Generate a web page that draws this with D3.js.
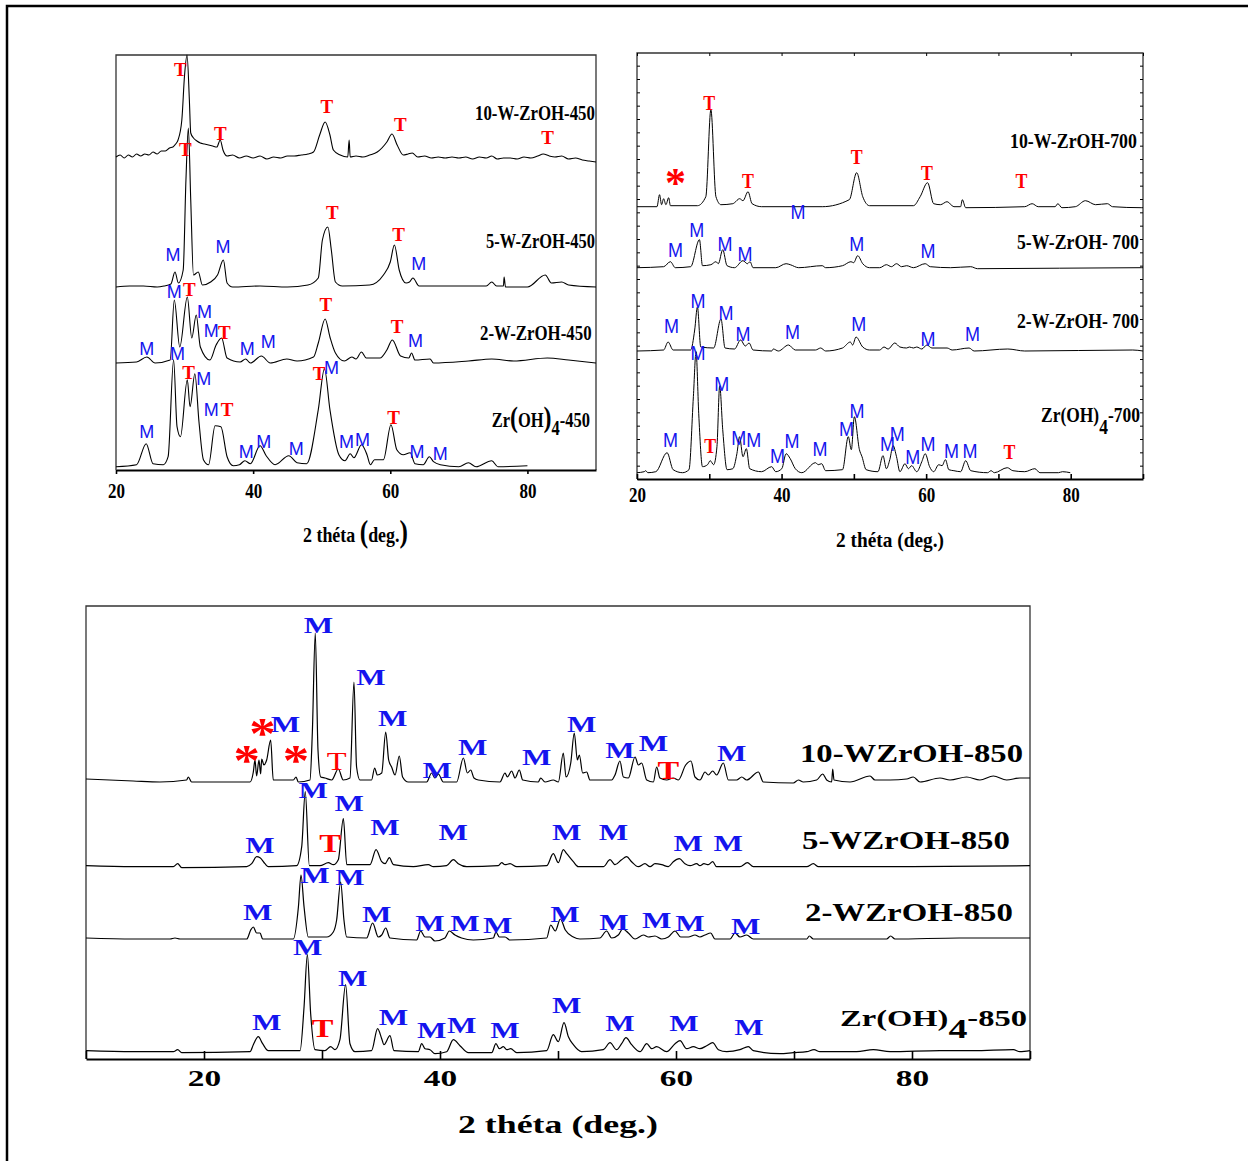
<!DOCTYPE html>
<html>
<head>
<meta charset="UTF-8">
<title>DRX W-ZrOH</title>
<script src="https://cdn.jsdelivr.net/npm/d3@7"></script>
<style>
body{margin:0;background:#fff;}
svg{display:block;}
</style>
</head>
<body>
<script>
// ---------- data : [2theta, intensity above own baseline (a.u.)] ----------
var names450 = ["10-W-ZrOH-450", "5-W-ZrOH-450", "2-W-ZrOH-450", "Zr(OH)4-450"];
var offsets450 = [313, 183, 107, 3.3];
var w10_450 = [[20,0],[20.6,2],[21.2,-1],[21.8,2],[22.4,0],[23,3],[23.6,1],[24.2,3],[24.8,2],[25.4,5],[26,3],[26.6,6],[27.2,6],[27.8,9],[28.3,10],[28.7,13],[29.05,17],[29.6,37],[30,82],[30.36,102],[30.7,57],[30.9,24],[31.3,19],[31.8,16],[32.3,14],[32.9,13],[33.5,12],[34.1,11],[34.7,10],[35.2,17],[35.6,7],[36.2,1],[37,2],[38,-1],[39,1],[40,-1],[41,1],[42,-2],[43,0],[44,-1],[45,1],[46,1],[47,2],[48,3],[48.8,5],[49.7,22],[50.5,35],[51.2,22],[51.7,7],[52.7,2],[53.8,0],[54,17],[54.15,0],[55,1],[56,0],[57,2],[58.1,5],[59.5,15],[60.25,23],[61,12],[61.9,2],[62.6,3],[63.2,4],[64,0],[65,1],[66,-1],[67,0],[68,-1],[69,0],[70,-1],[71,0],[72,-2],[73,0],[74,-1],[74.8,1],[75.6,-2],[76.5,-1],[77.5,-1],[78.5,-2],[79.5,0],[80.5,-1],[81.5,1],[82.3,3],[83.2,1],[84,0],[85,1],[86,-2],[87,-1],[88,-3],[89,-4],[90,-5]];
var w5_450 = [[20,0],[22,1],[24,1],[26,0],[27,1],[28,3],[28.6,15],[29.1,4],[29.8,17],[30.2,107],[30.55,159],[30.9,87],[31.3,12],[32,15],[32.6,2],[33.8,5],[34.8,12],[35.66,27],[36.2,4],[37,0],[41,1],[45,0],[48,2],[49.5,9],[50.1,47],[50.9,60],[51.4,37],[52,5],[53,1],[57,2],[59,12],[60,25],[60.6,42],[61.3,17],[62.3,4],[62.8,5],[63.3,9],[64.2,1],[70,1],[74,1],[74.8,5],[75.5,1],[76.5,1],[76.6,10],[76.8,0],[80,0],[82.6,12],[83.5,4],[85,5],[86,2],[90,0]];
var w2_450 = [[20,0],[23,1],[24.5,6],[25.7,0],[27.9,3],[28.5,63],[29.3,16],[30.4,66],[31.05,25],[31.7,48],[32.3,16],[33.7,3],[34.6,18],[35.4,25],[36.2,5],[38.1,1],[38.9,4],[39.6,0],[41.2,7],[42.5,0],[44.9,4],[46.4,2],[48.8,6],[49.5,20],[50.5,44],[51.2,26],[52,10],[53.3,2],[54.4,6],[55,4],[55.8,11],[56.5,5],[58.5,5],[59.5,13],[60.3,23],[61.5,7],[62.7,5],[63.1,10],[63.6,3],[65.8,4],[66.3,0],[71.4,2],[74.8,4],[78,2],[82.9,5],[86,3],[90,0]];
var zr_450 = [[20,0],[23,2],[24.4,23],[25.4,3],[26.9,2],[27.6,10],[28.4,107],[28.9,40],[29.4,30],[30.4,87],[30.8,60],[31.5,93],[32.1,45],[32.75,7],[33.5,2],[34.45,41],[35.3,40],[36.2,10],[37.1,1],[38,2],[38.8,6],[39.6,3],[41,21],[41.9,11],[43.2,2],[45.2,11],[46.4,4],[47.8,3],[49.5,57],[50.4,98],[51.2,57],[52.5,12],[53.4,6],[54.15,13],[54.7,9],[55.8,22],[56.6,12],[57.1,2],[57.7,7],[59,7],[60.1,42],[60.95,17],[61.9,12],[62.9,14],[63.6,3],[64.8,2],[65.7,10],[66.3,5],[67.3,2],[70,0],[71.4,4],[72.5,0],[74.8,6],[75.7,0],[80,1]];
// peak labels: [2theta, height (a.u.), phase]
var phases450 = [[29.37,400.7,"T"],[35.22,336.7,"T"],[50.73,363.3,"T"],[61.46,345,"T"],[82.93,332.7,"T"],
  [30.1,320,"T"],[28.3,215,"M"],[35.6,223.3,"M"],[51.56,257.3,"T"],[61.2,235,"T"],[64.15,206.7,"M"],
  [28.49,178.3,"M"],[30.68,180.7,"T"],[32.92,158.3,"M"],[33.9,139,"M"],[35.8,137.3,"T"],[24.49,121.7,"M"],[39.13,121.7,"M"],[42.2,128.3,"M"],[50.59,165.7,"T"],[60.98,143.3,"T"],[63.66,129.3,"M"],
  [24.49,38.3,"M"],[28.97,116,"M"],[30.58,97.3,"T"],[32.78,91.7,"M"],[33.9,60,"M"],[36.2,60,"T"],[38.98,18.3,"M"],[41.56,28.3,"M"],[46.3,21.7,"M"],[49.6,96.7,"T"],[51.42,102.7,"M"],[53.62,28.3,"M"],[55.96,30.7,"M"],[60.49,52.3,"T"],[63.9,18.3,"M"],[67.27,16.7,"M"]];

var names700 = ["10-W-ZrOH-700", "5-W-ZrOH- 700", "2-W-ZrOH- 700", "Zr(OH)4-700"];
var offsets700 = [272.3, 211.3, 128, 6.3];
var w10_700 = [[20,0],[22.76,0],[23.12,12],[23.4,2],[23.68,8],[24,2],[24.38,9],[24.62,1],[28.36,1],[29.52,10],[30.22,97],[30.92,10],[31.62,2],[33.26,3],[33.49,4],[34.19,8],[34.66,6],[35.36,15],[35.92,3],[37.23,0],[45.63,0],[49.37,7],[50.39,34],[51.23,10],[52.17,1],[58.24,1],[59.17,10],[60.2,24],[61.04,3],[61.97,2],[62.9,5],[63.84,0],[64.77,0],[65,7],[65.47,-1],[73.64,0],[74.66,3],[75.5,0],[77.84,0],[78.22,3],[78.78,-1],[80.64,0],[82.04,6],[83.44,2],[85.08,3],[85.78,0],[89.75,-1],[90,-1]];
var w5_700 = [[20,0],[23.68,1],[24.62,6],[25.3,0],[27.42,1],[28.64,28],[29.06,2],[30.22,3],[30.92,6],[31.25,4],[31.86,18],[32.46,2],[33.49,0],[34.66,7],[35.27,4],[35.64,6],[36.06,0],[39.2,0],[40.63,4],[41.2,3],[42.37,0],[45.63,2],[46.1,0],[48.43,2],[49.6,6],[49.97,5],[50.53,12],[51.23,4],[52.17,0],[53.57,0],[54.5,3],[55.2,1],[55.9,4],[56.6,1],[57.3,2],[58.24,0],[59.87,4],[60.57,1],[63.38,0],[66.17,1],[67.1,-1],[89.75,0],[90,0]];
var w2_700 = [[20,0],[23.68,1],[24.3,9],[25,1],[27.42,1],[27.98,21],[28.36,44],[28.82,4],[30.6,3],[31.62,32],[32.18,3],[33.49,2],[34.33,11],[34.99,5],[35.5,8],[36.06,1],[38.63,0],[38.86,2],[39.56,0],[40.96,6],[41.9,1],[44.7,1],[45.4,3],[46.1,0],[48.43,3],[49.51,9],[49.83,6],[50.3,14],[51.23,4],[52.17,1],[53.57,1],[54.17,4],[54.73,2],[55.67,8],[56.37,4],[57.3,3],[57.68,4],[58.24,3],[58.7,4],[59.4,2],[60.1,6],[60.8,3],[62.9,3],[63.6,1],[65.94,3],[66.64,0],[71.3,2],[73.64,0],[88.58,1],[90,0]];
var zr_700 = [[20,0],[21,1],[21.2,2],[21.5,0],[22.6,1],[24.16,20],[25,3],[26.3,0],[27.19,3],[27.8,76],[28.17,121],[28.54,59],[29.06,6],[29.76,8],[30.13,12],[30.6,8],[31.06,26],[31.44,87],[31.86,43],[32.46,3],[33.26,4],[33.82,19],[34.19,36],[34.66,16],[35.13,24],[35.59,4],[37.23,1],[38.63,6],[39.19,1],[40.03,4],[40.63,19],[41.2,14],[41.9,4],[42.8,0],[44.7,10],[45.07,8],[45.54,9],[46.1,2],[48.43,3],[49.23,36],[49.65,23],[50.07,56],[50.77,23],[51.13,16],[51.7,3],[53.33,1],[54.03,17],[54.5,4],[54.97,13],[55.43,27],[55.9,16],[56.37,1],[57.07,9],[57.54,4],[58,7],[58.7,1],[59.4,11],[59.87,19],[60.48,6],[61.04,1],[61.74,8],[62.2,7],[62.67,13],[63.14,3],[63.84,2],[64.77,1],[65.47,12],[66.17,2],[68.5,0],[68.98,2],[69.44,0],[71.22,5],[72,2],[73.64,1],[75.04,4],[75.74,0],[78.3,0],[78.86,1],[79.94,0]];
var phases700 = [[25.32,300.7,"*"],[29.99,375.7,"T"],[35.36,298.3,"T"],[42.27,267.3,"M"],[50.39,321.7,"T"],[60.1,305.7,"T"],[73.17,298.3,"T"],
  [25.32,229.7,"M"],[28.26,249.7,"M"],[32.18,235.7,"M"],[34.94,225.7,"M"],[50.39,235.7,"M"],[60.24,228.3,"M"],
  [24.76,153,"M"],[28.45,178.3,"M"],[32.32,166.3,"M"],[34.66,145.7,"M"],[41.52,147.3,"M"],[50.67,155,"M"],[60.24,140.7,"M"],[66.41,145,"M"],
  [28.45,126.3,"M"],[31.72,95.7,"M"],[24.62,39,"M"],[30.13,33,"T"],[34.09,41.7,"M"],[36.16,39.7,"M"],[39.42,23,"M"],[41.43,38,"M"],[45.31,30.7,"M"],[48.99,50,"M"],[50.43,68,"M"],[54.64,35,"M"],[55.99,45.7,"M"],[58.14,22.3,"M"],[60.24,35.7,"M"],[63.5,28,"M"],[66.08,28,"M"],[71.54,27.3,"T"]];

var names850 = ["10-WZrOH-850", "5-WZrOH-850", "2-WZrOH-850", "Zr(OH)4-850"];
var offsets850 = [279, 192.3, 120, 6.3];
var w10_850 = [[10,1],[12,0],[14,-1],[16.27,-2],[18.53,0],[18.67,3],[18.95,-2],[23.9,-2],[24.18,8],[24.32,20],[24.46,4],[24.66,20],[24.8,6],[24.89,21],[25.08,15],[25.31,20],[25.65,40],[25.87,0],[27.57,0],[27.8,3],[27.99,-2],[28.98,0],[29.18,47],[29.43,147],[29.66,30],[29.89,3],[30.25,2],[30.82,0],[31.38,11],[31.8,0],[32.37,2],[32.71,98],[32.93,13],[33.22,0],[34.2,0],[34.46,12],[34.69,5],[35.06,7],[35.4,48],[35.65,20],[35.9,13],[36.19,5],[36.55,24],[36.83,3],[37.31,-2],[38.87,-2],[39.29,7],[39.57,2],[39.86,6],[40.28,-2],[41.41,-2],[41.98,22],[42.32,7],[42.6,10],[42.88,2],[43.25,0],[45.08,-2],[45.51,7],[45.71,3],[46.07,9],[46.36,2],[46.72,10],[47.01,0],[48.33,-2],[48.53,2],[48.9,-2],[49.6,0],[50.03,-2],[50.45,27],[50.68,3],[51.08,17],[51.38,47],[51.64,20],[51.81,25],[52.09,7],[52.43,8],[52.71,0],[54.55,0],[54.83,5],[55.25,19],[55.54,3],[55.96,2],[56.53,23],[56.81,15],[57.09,17],[57.52,0],[58.08,-2],[58.36,13],[58.64,2],[59.21,0],[59.77,2],[60.2,0],[60.82,15],[61.27,19],[61.61,3],[62.03,0],[62.46,8],[62.74,5],[63.11,9],[63.44,5],[64.01,17],[64.44,0],[65.14,0],[65.57,3],[65.99,0],[66.98,8],[67.4,-2],[69.94,-3],[70.37,0],[70.79,-2],[71.92,0],[72.43,6],[72.77,0],[73.19,-2],[73.28,11],[73.39,0],[74.75,-2],[76.44,4],[76.86,0],[78.14,0],[79.55,1],[80.11,3],[80.68,-2],[82.37,2],[83.22,0],[84.63,3],[85.76,0],[86.89,4],[88.02,0],[89.15,2],[90,2]];
var w5_850 = [[10,1],[14,0],[17.4,0],[17.77,3],[18.11,-1],[23.62,0],[24.04,3],[24.46,10],[24.75,9],[25.17,3],[25.45,0],[27.85,1],[28.28,20],[28.58,75],[28.93,1],[29.83,1],[30.54,4],[30.96,2],[31.38,7],[31.81,48],[32.1,2],[34.07,2],[34.58,17],[35.06,5],[35.34,3],[35.71,9],[36.05,2],[37.74,0],[39.01,2],[39.44,0],[40.56,1],[41.13,7],[41.55,3],[42.26,0],[44.94,1],[45.23,4],[45.51,2],[45.93,3],[46.5,0],[49.04,1],[49.6,13],[50.03,4],[50.45,17],[50.74,13],[51.3,5],[51.72,0],[53.84,0],[54.41,7],[54.83,2],[55.39,7],[55.82,10],[56.24,5],[56.81,0],[57.37,3],[57.8,0],[58.22,3],[58.79,2],[59.35,0],[59.77,5],[60.28,8],[60.76,3],[61.19,1],[61.75,3],[62.03,1],[62.37,3],[62.74,2],[63.11,5],[63.44,0],[65.42,0],[66.05,4],[66.55,0],[71.08,0],[71.64,3],[72.07,0],[80,0],[90,1]];
var w2_850 = [[10,1],[14,0],[17.12,0],[17.54,1],[17.97,0],[23.62,0],[23.96,9],[24.18,12],[24.46,6],[24.75,6],[24.97,0],[27.57,0],[28,32],[28.22,64],[28.48,32],[28.84,2],[30.4,2],[30.96,7],[31.24,19],[31.58,57],[31.86,19],[32.09,2],[33.78,1],[34.29,16],[34.77,2],[35.06,4],[35.4,11],[35.76,1],[38.02,-1],[38.36,8],[38.73,2],[39.15,2],[39.57,-2],[40.42,1],[40.79,8],[41.27,4],[41.83,1],[42.82,-1],[44.52,1],[44.74,7],[45.03,2],[45.51,2],[45.93,-1],[49.04,1],[49.38,14],[49.77,8],[50.2,20],[50.62,9],[51.3,2],[51.86,0],[53.55,1],[54.12,8],[54.55,1],[55.11,4],[55.48,10],[55.96,6],[56.53,0],[57.24,4],[57.66,2],[58.22,3],[58.79,0],[59.35,2],[59.92,8],[60.4,2],[61.05,2],[61.61,4],[62.03,2],[62.46,4],[62.94,6],[63.3,0],[64.58,0],[65,6],[65.42,2],[65.99,4],[66.55,0],[71.08,0],[71.3,3],[71.64,0],[77.85,0],[78.19,3],[78.56,0],[84,1],[90,1]];
var zr_850 = [[10,2],[14,1],[17.4,1],[17.77,3],[18.11,0],[23.9,1],[24.18,8],[24.6,16],[24.97,9],[25.45,2],[28.14,2],[28.48,46],[28.76,98],[29.04,39],[29.41,3],[30.25,2],[30.73,6],[31.1,3],[31.52,13],[32,68],[32.37,9],[32.8,1],[34.2,2],[34.71,24],[35.06,14],[35.25,8],[35.76,17],[36.1,2],[38.16,1],[38.45,9],[38.73,4],[39.15,3],[39.57,-1],[40.56,1],[41.13,13],[41.69,7],[42.4,0],[44.38,0],[44.74,9],[45.03,4],[45.37,6],[45.65,3],[45.99,4],[46.5,0],[49.04,2],[49.6,18],[50.03,11],[50.51,30],[50.88,16],[51.3,8],[52,1],[53.84,3],[54.41,10],[54.97,3],[55.39,9],[55.76,15],[56.24,8],[56.95,1],[57.52,9],[57.94,4],[58.36,6],[59.21,1],[59.92,9],[60.34,12],[60.9,4],[61.47,6],[62.03,4],[62.6,7],[63.11,10],[63.59,3],[64.3,1],[65.42,3],[66.13,6],[66.55,2],[68.81,-1],[69.94,0],[71.08,1],[71.7,3],[72.2,1],[75.31,1],[76.72,3],[78.14,1],[82.37,2],[85.2,2],[88.59,3],[89.15,1],[90,2]];
var phases850 = [[29.69,434,"M"],[34.15,382.3,"M"],[26.9,335,"M"],[35.99,340.7,"M"],[23.62,304,"*"],[24.95,330.7,"*"],[27.8,304,"*"],[39.77,289,"M"],[42.77,312.3,"M"],[48.19,302.3,"M"],[52.01,335,"M"],[55.25,309,"M"],[58.08,316.3,"M"],[59.35,289,"T"],[64.72,306.3,"M"],
  [29.26,269,"M"],[32.31,256.3,"M"],[35.34,232.3,"M"],[41.13,227.3,"M"],[30.68,215.7,"T"],[24.75,214,"M"],[50.73,227.3,"M"],[54.69,227.3,"M"],[61.04,215.7,"M"],[64.43,215.7,"M"],
  [29.41,184,"M"],[32.37,181.7,"M"],[24.55,147.3,"M"],[34.63,145,"M"],[39.15,135.7,"M"],[42.12,135.7,"M"],[44.89,134,"M"],[50.59,145,"M"],[54.75,137.3,"M"],[58.36,139,"M"],[61.19,135.7,"M"],[65.91,133,"M"],
  [28.79,112.3,"M"],[32.6,81.3,"M"],[25.31,37.3,"M"],[30.06,30.7,"T"],[36.05,42.3,"M"],[39.29,29,"M"],[41.83,34,"M"],[45.51,29,"M"],[50.73,54,"M"],[55.25,36.3,"M"],[60.68,35.7,"M"],[66.19,32.3,"M"]];
var thinPhases850 = [[31.24,297.3,"T"]];

var ticks450 = [20, 40, 60, 80];
var ticks700 = [20, 30, 40, 50, 60, 70, 80, 90];
var ticks850 = [10, 20, 30, 40, 50, 60, 70, 80, 90];
var tickLabels = [20, 40, 60, 80];

// ---------- drawing ----------
var W = 1248, H = 1161;
var SERIF = "'Liberation Serif','Times New Roman',serif";
var SANS = "'Liberation Sans',Arial,sans-serif";

var svg = d3.select("body").append("svg").attr("width", W).attr("height", H);

svg.append("path").attr("d", "M7,1161V6H1248")
   .attr("fill", "none").attr("stroke", "#000").attr("stroke-width", 2.5);

// text squeezed/stretched to the width seen in the figure
function fitText(g, parts, xa, xb, base, fs) {
  var gg = g.append("g");
  var t = gg.append("text").attr("font-family", SERIF).attr("font-weight", "bold")
            .attr("font-size", fs).attr("fill", "#000");
  parts.forEach(function(p) {
    var s = t.append("tspan").text(p.t);
    if (p.fs) s.attr("font-size", p.fs);
    if (p.dy) s.attr("dy", p.dy);
  });
  var w0 = t.node().getBBox().width;
  gg.attr("transform", "translate(" + xa + "," + base + ") scale(" + ((xb - xa) / w0) + ",1)");
}

function panel(c) {
  var g = svg.append("g").attr("transform", "translate(" + c.x0 + "," + c.y0 + ")");
  var x = d3.scaleLinear().domain(c.dom).range([0, c.w]);
  var y = d3.scaleLinear().domain([0, c.h]).range([c.h, 0]);
  var line = d3.line().x(function(d) { return x(d[0]); })
                      .y(function(d) { return y(d[1]); })
                      .curve(d3.curveMonotoneX);

  // frame
  g.append("path").attr("d", "M0," + c.h + "V0H" + c.w + "V" + c.h)
   .attr("fill", "none").attr("stroke", "#333").attr("stroke-width", 1.3);

  if (c.sideTicks) {
    var yt = d3.range(0, c.h, 40 / 3);
    g.append("g").call(d3.axisLeft(y).tickValues(yt).tickSize(-3).tickFormat(""))
     .call(function(a) { a.select(".domain").remove(); });
    g.append("g").attr("transform", "translate(" + c.w + ",0)")
     .call(d3.axisRight(y).tickValues(yt).tickSize(-3).tickFormat(""))
     .call(function(a) { a.select(".domain").remove(); });
    g.append("g").call(d3.axisTop(x).tickValues(ticks700).tickSize(-3).tickFormat(""))
     .call(function(a) { a.select(".domain").remove(); });
  }

  // traces
  c.traces.forEach(function(tr, i) {
    g.append("path")
     .datum(tr.map(function(p) { return [p[0], p[1] + c.offsets[i]]; }))
     .attr("d", line).attr("fill", "none")
     .attr("stroke", "#000").attr("stroke-width", c.lw).attr("stroke-linejoin", "round");
  });

  // bottom axis
  var ax = g.append("g").attr("transform", "translate(0," + c.h + ")")
    .call(d3.axisBottom(x).tickValues(c.ticks).tickSize(c.tickLen).tickSizeOuter(0)
            .tickFormat(function(d) { return tickLabels.indexOf(d) >= 0 ? d : ""; }));
  ax.select(".domain").attr("stroke", "#000").attr("stroke-width", 2);
  ax.selectAll(".tick line").attr("stroke", "#000").attr("stroke-width", 1.6);
  ax.selectAll(".tick text")
    .attr("y", c.tickY).attr("dy", 0)
    .attr("font-family", SERIF).attr("font-weight", "bold")
    .attr("font-size", c.tickFs).attr("fill", "#000")
    .attr("transform", "scale(" + c.tickSx + ",1)");

  // phase labels
  function mark(list, st) {
    list.forEach(function(d) {
      var s = st[d[2]];
      g.append("g").attr("transform", "translate(" + x(d[0]) + "," + y(d[1]) + ") scale(" + s.sx + ",1)")
       .append("text").text(d[2])
       .attr("text-anchor", "middle").attr("y", s.fs * s.k)
       .attr("font-family", s.ff).attr("font-weight", s.fw)
       .attr("font-size", s.fs).attr("fill", s.col);
    });
  }
  mark(c.phases, c.style);
  if (c.thin) mark(c.thin, c.thinStyle);

  // sample names and axis title
  c.labels.forEach(function(l) { fitText(g, l.parts, l.xa, l.xb, l.base, l.fs); });
  fitText(g, c.title.parts, c.title.xa, c.title.xb, c.title.base, c.title.fs);
}

var RED = "#ff0000", BLUE = "#1414ee";

panel({
  x0: 116, y0: 55, w: 480, h: 415, dom: [20, 90], lw: 1.1,
  traces: [w10_450, w5_450, w2_450, zr_450], offsets: offsets450,
  ticks: ticks450, tickLen: 4, tickY: 28, tickFs: 20, tickSx: 0.85,
  phases: phases450,
  style: {
    M: {ff: SANS, fw: "normal", fs: 18, sx: 1, k: 0.36, col: BLUE},
    T: {ff: SERIF, fw: "bold", fs: 19, sx: 1, k: 0.33, col: RED}
  },
  labels: [
    {parts: [{t: names450[0]}], xa: 359, xb: 479, base: 65, fs: 21},
    {parts: [{t: names450[1]}], xa: 370, xb: 479, base: 193, fs: 21},
    {parts: [{t: names450[2]}], xa: 364, xb: 475.7, base: 285, fs: 21},
    {parts: [{t: "Zr"}, {t: "(", fs: 29}, {t: "OH"}, {t: ")", fs: 29}, {t: "4", dy: 8}, {t: "-450", dy: -8}],
     xa: 375.7, xb: 474, base: 371.7, fs: 20}
  ],
  title: {parts: [{t: "2 théta "}, {t: "(", fs: 31}, {t: "deg."}, {t: ")", fs: 31}], xa: 187, xb: 292, base: 486.7, fs: 22}
});

panel({
  x0: 637, y0: 53, w: 506, h: 426, dom: [20, 90], lw: 1, sideTicks: true,
  traces: [w10_700, w5_700, w2_700, zr_700], offsets: offsets700,
  ticks: ticks700, tickLen: -5, tickY: 22.7, tickFs: 20, tickSx: 0.85,
  phases: phases700,
  style: {
    M: {ff: SANS, fw: "normal", fs: 20, sx: 0.9, k: 0.36, col: BLUE},
    T: {ff: SERIF, fw: "bold", fs: 21, sx: 0.85, k: 0.33, col: RED},
    "*": {ff: SERIF, fw: "bold", fs: 42, sx: 1, k: 0.45, col: RED}
  },
  labels: [
    {parts: [{t: names700[0]}], xa: 373, xb: 500, base: 95.3, fs: 22},
    {parts: [{t: names700[1]}], xa: 380, xb: 502, base: 196.3, fs: 22},
    {parts: [{t: names700[2]}], xa: 380, xb: 502, base: 274.7, fs: 22},
    {parts: [{t: "Zr(OH)"}, {t: "4", dy: 12}, {t: "-700", dy: -12}], xa: 404, xb: 503, base: 368.7, fs: 20}
  ],
  title: {parts: [{t: "2 théta (deg.)"}], xa: 199, xb: 307, base: 493.7, fs: 22}
});

panel({
  x0: 86, y0: 606, w: 944, h: 453, dom: [10, 90], lw: 1.2,
  traces: [w10_850, w5_850, w2_850, zr_850], offsets: offsets850,
  ticks: ticks850, tickLen: -8, tickY: 27, tickFs: 23, tickSx: 1.45,
  phases: phases850, thin: thinPhases850,
  style: {
    M: {ff: SERIF, fw: "bold", fs: 24, sx: 1.3, k: 0.33, col: BLUE},
    T: {ff: SERIF, fw: "bold", fs: 26, sx: 1.25, k: 0.33, col: RED},
    "*": {ff: SERIF, fw: "bold", fs: 44, sx: 1.2, k: 0.45, col: RED}
  },
  thinStyle: {T: {ff: SERIF, fw: "normal", fs: 25, sx: 1.3, k: 0.33, col: RED}},
  labels: [
    {parts: [{t: names850[0]}], xa: 714, xb: 937, base: 156.3, fs: 26},
    {parts: [{t: names850[1]}], xa: 716, xb: 924, base: 243, fs: 26},
    {parts: [{t: names850[2]}], xa: 719, xb: 927, base: 315, fs: 26},
    {parts: [{t: "Zr(OH)"}, {t: "4", dy: 12, fs: 28}, {t: "-850", dy: -12}], xa: 754, xb: 941, base: 419.7, fs: 24}
  ],
  title: {parts: [{t: "2 théta (deg.)"}], xa: 372, xb: 572, base: 527, fs: 26}
});
</script>
</body>
</html>
